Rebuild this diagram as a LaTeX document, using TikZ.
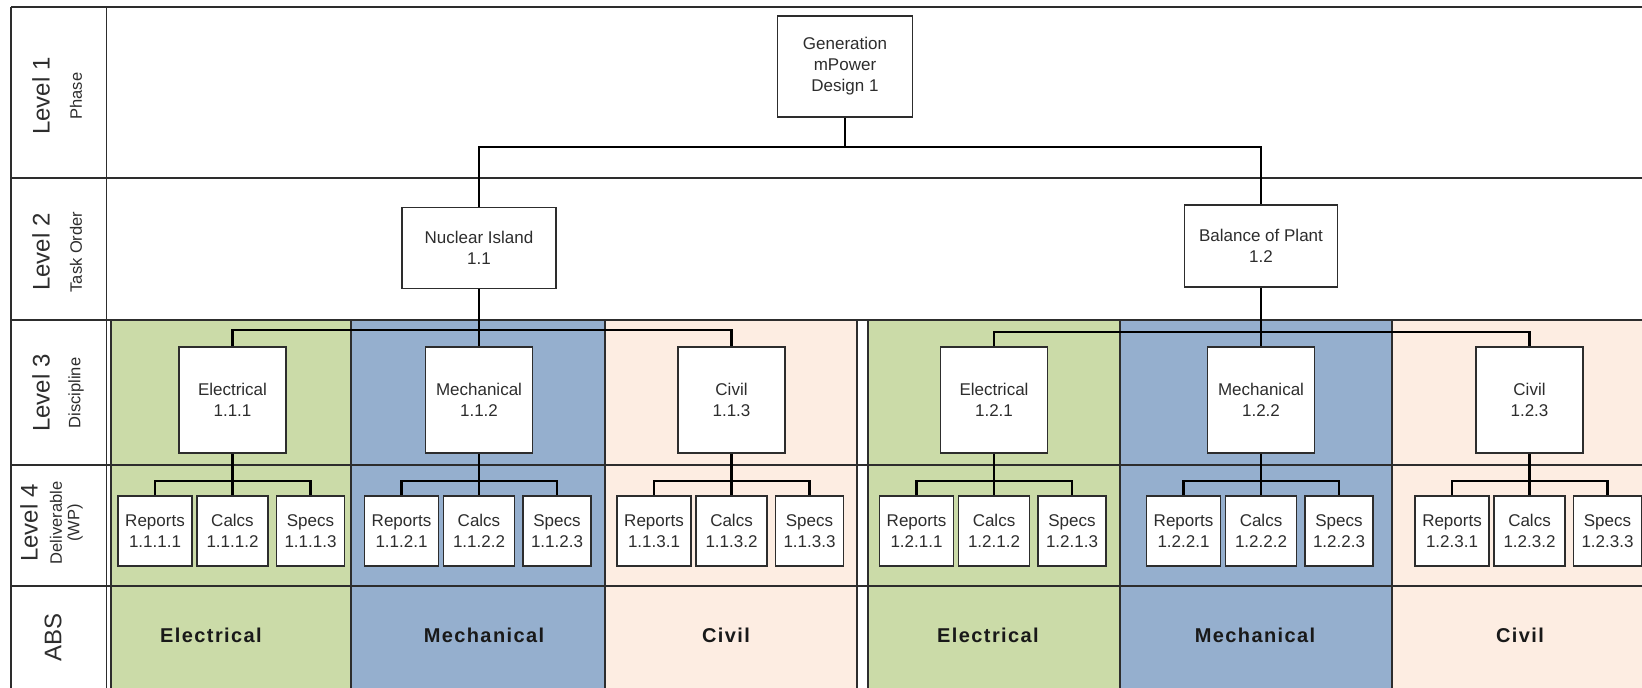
\documentclass[tikz,border=0pt]{standalone}
\usepackage{fontspec}
\setmainfont{Liberation Sans}
\usetikzlibrary{calc, positioning}

\definecolor{elecgreen}{RGB}{203,219,168}
\definecolor{mechblue}{RGB}{149,175,206}
\definecolor{civilpeach}{RGB}{253,237,226}
\definecolor{inkgray}{RGB}{45,45,45}

\begin{document}
\begin{tikzpicture}[x=1pt, y=-1pt,
    wbsbox/.style={draw=inkgray, line width=1.8pt, fill=white, inner sep=0pt, align=center,
        font=\fontsize{17}{21}\selectfont, text=inkgray},
    wire/.style={line width=2.6pt, black},
    gridline/.style={line width=1.5pt, draw=inkgray},
    lvltext/.style={rotate=90, font=\fontsize{24}{28}\selectfont, text=inkgray},
    subtext/.style={rotate=90, font=\fontsize{16.5}{19}\selectfont, text=inkgray},
    abstext/.style={font=\fontsize{20}{24}\selectfont\bfseries\addfontfeature{LetterSpace=7}, text=black!90}]
    \useasboundingbox (0,0) rectangle (1642,688);
    \clip (0,0) rectangle (1642,688);
    \fill[white] (0,0) rectangle (1642,688);
    \foreach \xa/\xb/\col in {111/351/elecgreen, 351/605/mechblue, 605/857/civilpeach,
        868/1120/elecgreen, 1120/1392/mechblue, 1392/1660/civilpeach}
        \filldraw[gridline, fill=\col] (\xa,320) rectangle (\xb,700);
    \draw[line width=2pt, draw=inkgray] (11,7) -- (1660,7);
    \foreach \ry in {178, 320, 465, 586}
        \draw[gridline] (11,\ry) -- (1660,\ry);
    \draw[gridline] (11,7) -- (11,700);
    \draw[gridline] (106.5,7) -- (106.5,700);

    \node[lvltext] (lv1) at (41,96) {Level 1};
    \node[subtext] (lv1s) at (76,96) {Phase};
    \node[lvltext] (lv2) at (41,252) {Level 2};
    \node[subtext] (lv2s) at (76,252) {Task Order};
    \node[lvltext] (lv3) at (41,393) {Level 3};
    \node[subtext] (lv3s) at (76,393) {Discipline};
    \node[lvltext] (lv4) at (29,523) {Level 4};
    \node[subtext] (lv4s) at (56,523) {Deliverable};
    \node[subtext] (lv4w) at (75,523) {(WP)};
    \node[lvltext] (abstag) at (53,637) {ABS};

    \node[wbsbox, minimum width=135pt, minimum height=101pt] (gen) at (845,66.5) {Generation\\mPower\\Design 1};
    \node[wbsbox, minimum width=154pt, minimum height=81pt] (ni) at (479,248) {Nuclear Island\\1.1};
    \node[wbsbox, minimum width=153pt, minimum height=82pt] (bop) at (1261,246) {Balance of Plant\\1.2};
    \coordinate (bus0) at (845,147);
    \coordinate (bus1) at (479,330);
    \coordinate (bus2) at (1261,332);

    \foreach \id/\name/\num/\cx in {e11/Electrical/1.1.1/232.5, m12/Mechanical/1.1.2/479,
        c13/Civil/1.1.3/731.5, e21/Electrical/1.2.1/994, m22/Mechanical/1.2.2/1261,
        c23/Civil/1.2.3/1529.5} {
        \node[wbsbox, minimum width=107pt, minimum height=106pt] (\id) at (\cx,400) {\name\\\num};
        \node[wbsbox, minimum width=74pt, minimum height=70pt] (\id r) at (\cx-77.5,531) {Reports\\\num.1};
        \node[wbsbox, minimum width=71pt, minimum height=70pt] (\id c) at (\cx,531) {Calcs\\\num.2};
        \node[wbsbox, minimum width=68pt, minimum height=70pt] (\id s) at (\cx+78,531) {Specs\\\num.3};
        \coordinate (\id b) at (\cx,481);
        \draw[wire] (\id) -- (\id c);
        \draw[wire] (\id r.north) |- (\id b) -| (\id s.north);
    }

    \draw[wire] (gen) -- (bus0);
    \draw[wire] (ni.north) |- (bus0) -| (bop.north);
    \draw[wire] (ni) -- (m12);
    \draw[wire] (e11.north) |- (bus1) -| (c13.north);
    \draw[wire] (bop) -- (m22);
    \draw[wire] (e21.north) |- (bus2) -| (c23.north);

    \foreach \tx/\lab [count=\i] in {211/Electrical, 484/Mechanical, 726/Civil,
        988/Electrical, 1255/Mechanical, 1520/Civil}
        \node[abstext] (abs\i) at (\tx,635) {\lab};
\end{tikzpicture}
\end{document}
